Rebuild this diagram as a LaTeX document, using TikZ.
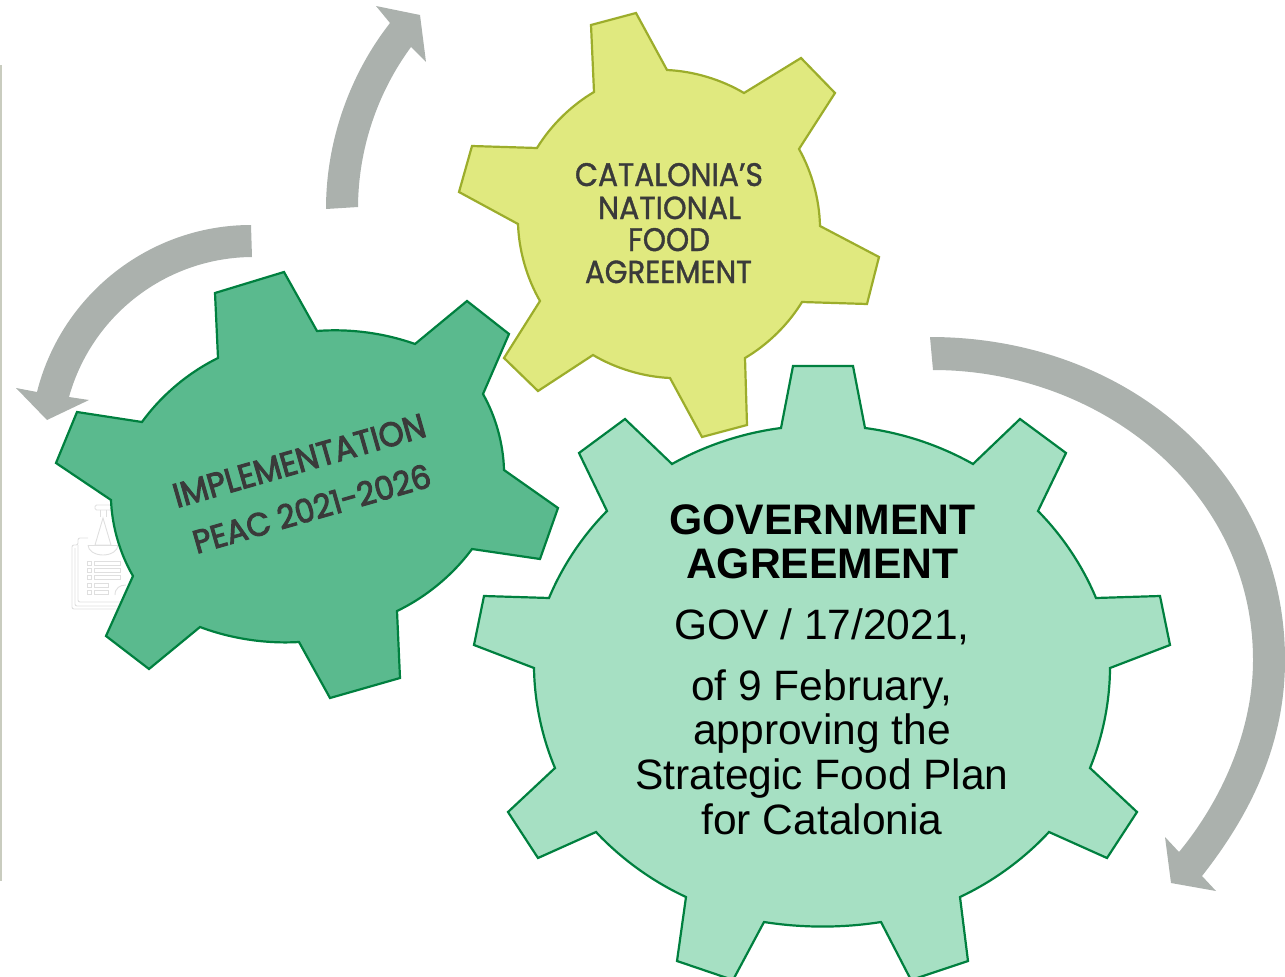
\documentclass[tikz,border=0pt]{standalone}
\usepackage{fontspec}
\usepackage{graphicx}
\setmainfont{Liberation Sans}
\newfontfamily\gearfont[FakeBold=1.2]{Poppins}
\newfontfamily\gearfontb[FakeBold=3]{Poppins}
\definecolor{gearline}{HTML}{00803F}
\definecolor{lightfill}{HTML}{A6E0C3}
\definecolor{darkfill}{HTML}{5ABA8E}
\definecolor{yellowfill}{HTML}{E0E97F}
\definecolor{yellowline}{HTML}{9CAD2B}
\definecolor{arrowgrey}{HTML}{ABB1AD}
\definecolor{inktext}{HTML}{3A3A3A}
\definecolor{iconline}{HTML}{DFDFDF}
\definecolor{sidebar}{HTML}{C9CCBF}
\newcommand{\fitw}[3]{\resizebox{#1pt}{#2pt}{#3}}
\tikzset{
  gearlight/.style={draw=gearline,fill=lightfill,line width=2.2pt,line join=miter},
  geardark/.style={draw=gearline,fill=darkfill,line width=2.2pt,line join=miter},
  gearyellow/.style={draw=yellowline,fill=yellowfill,line width=2.2pt,line join=miter},
  greyarrow/.style={fill=arrowgrey,draw=none},
  iconstroke/.style={draw=iconline,line width=0.9pt},
  lbl/.style={inner sep=0pt,anchor=base},
  big/.style={lbl,font=\fontsize{42.5}{42.5}\selectfont,text=black},
  bigb/.style={big,font=\fontsize{42.7}{42.7}\selectfont\bfseries},
  yel/.style={lbl,font=\gearfont\fontsize{30}{30}\selectfont,text=inktext},
  drk/.style={lbl,rotate=16,font=\gearfontb\fontsize{30}{30}\selectfont,text=inktext},
  arc1/.style={looseness=0.87},
  valley/.style={looseness=0.85},
}
\begin{document}
\begin{tikzpicture}[x=1pt,y=-1pt]
\useasboundingbox (0,0) rectangle (1285,977);
% sidebar
\fill[sidebar] (0,65) rectangle (2,881);
% watermark icon
\draw[iconstroke,rounded corners=1.5pt] (95,505) rectangle (112,510);
\draw[iconstroke] (100,510) -- (100,517) (106,510) -- (106,517);
\draw[iconstroke] (103,518) -- (95,545) -- (111,545) -- cycle;
\draw[iconstroke] (88,545) -- (118,545);
\draw[iconstroke] (88,545) arc[start angle=180,end angle=0,radius=15,y radius=10];
\draw[iconstroke,rounded corners=2pt] (88,538) -- (78,538) -- (78,545) -- (72,545) -- (72,609) -- (130,609);
\draw[iconstroke,rounded corners=2pt] (75,548) -- (75,606) -- (130,606);
\draw[iconstroke,rounded corners=2pt] (78,545) -- (78,602) -- (130,602);
\foreach \yy/\xe in {563/120,570/120,577/120,585/108,592/108}{
  \draw[iconstroke] (87,\yy-2) rectangle (91,\yy+2);
  \draw[iconstroke] (94,\yy-2) rectangle (\xe,\yy+2);
}
\draw[iconstroke] (115,595) .. controls (115,588) and (120,585) .. (126,585);
% arrows
\path[greyarrow] (326,209) to[bend left=19,arc1] (390,23) -- (376,6) -- (420,15) -- (426,62) -- (411,47) to[bend right=18,arc1] (358,207) -- cycle;
\path[greyarrow] (251,225) to[bend right=38,looseness=0.95] (37,392) -- (16,388) -- (47,420) -- (89,400) -- (69,397) to[bend left=37,looseness=0.95] (252,257) -- cycle;
\path[greyarrow] (930,337) .. controls (1125,337) and (1285,470) .. (1285,660)
  .. controls (1285,745) and (1250,815) .. (1202,876) -- (1216,891) -- (1171,883) -- (1165,837) -- (1179,852)
  .. controls (1222,800) and (1253,730) .. (1253,660)
  .. controls (1253,490) and (1100,370) .. (933,370) -- cycle;
% yellow gear
\path[gearyellow] (591,25) -- (636,13) -- (667,70) to[bend left=14,valley] (744,93) -- (801,58) -- (835,93) -- (799,149)
  to[bend left=14,valley] (820,226) -- (879,257) -- (867,304) -- (802,302) to[bend left=14,valley] (745,358) -- (747,425)
  -- (702,437) -- (670,378) to[bend left=14,valley] (593,355) -- (538,391) -- (504,358) -- (540,301)
  to[bend left=14,valley] (518,224) -- (459,192) -- (472,146) -- (537,148) to[bend left=14,valley] (594,92) -- cycle;
% dark gear
\path[geardark] (215,293) -- (284,272) -- (317,331) to[bend left=12,valley] (415,344) -- (467,301) -- (509,334) -- (483,394)
  to[bend left=14,valley] (504,470) -- (558,508) -- (540,559) -- (472,549) to[bend left=14,valley] (397,611) -- (400,678)
  -- (330,698) -- (299,642) to[bend left=12,valley] (200,627) -- (149,669) -- (106,636) -- (133,576)
  to[bend left=14,valley] (111,500) -- (56,463) -- (77,412) -- (142,422) to[bend left=14,valley] (218,358) -- cycle;
% light gear
\path[gearlight] (793,366) -- (853,366) -- (865,428) to[bend left=11,valley] (973,464) -- (1020,419) -- (1066,453) -- (1038,511)
  to[bend left=11,valley] (1096,598) -- (1160,596) -- (1170,645) -- (1110,668) to[bend left=11,valley] (1090,768) -- (1137,812)
  -- (1107,858) -- (1049,832) to[bend left=11,valley] (960,897) -- (968,961) -- (911,980) -- (881,922)
  to[bend left=9,valley] (764,922) -- (733,980) -- (677,961) -- (686,897) to[bend left=11,valley] (596,832) -- (538,858)
  -- (508,812) -- (555,768) to[bend left=11,valley] (534,668) -- (474,645) -- (484,596) -- (549,598)
  to[bend left=11,valley] (607,511) -- (579,453) -- (625,419) -- (672,464) to[bend left=11,valley] (781,428) -- cycle;
% texts
\node[yel] (y1) at (669,186) {\fitw{188}{23}{CATALONIA’S}};
\node[yel] (y2) at (669.5,219) {\fitw{143}{22.5}{NATIONAL}};
\node[yel] (y3) at (669,251) {\fitw{82}{23}{FOOD}};
\node[yel] (y4) at (668.5,283) {\fitw{167}{22.5}{AGREEMENT}};
\node[drk] (d1) at (302.5,472) {\fitw{261}{24}{IMPLEMENTATION}};
\node[drk] (d2) at (315,520) {\fitw{246}{24}{PEAC 2021-2026}};
\node[bigb] (b1) at (822.5,534) {GOVERNMENT};
\node[bigb] (b2) at (822.5,578) {AGREEMENT};
\node[big] (b3) at (822,639) {GOV / 17/2021,};
\node[big] (b4) at (822,700) {of 9 February,};
\node[big] (b5) at (822,744) {approving the};
\node[big] (b6) at (822,789) {Strategic Food Plan};
\node[big] (b7) at (822,834) {for Catalonia};
\end{tikzpicture}
\end{document}
